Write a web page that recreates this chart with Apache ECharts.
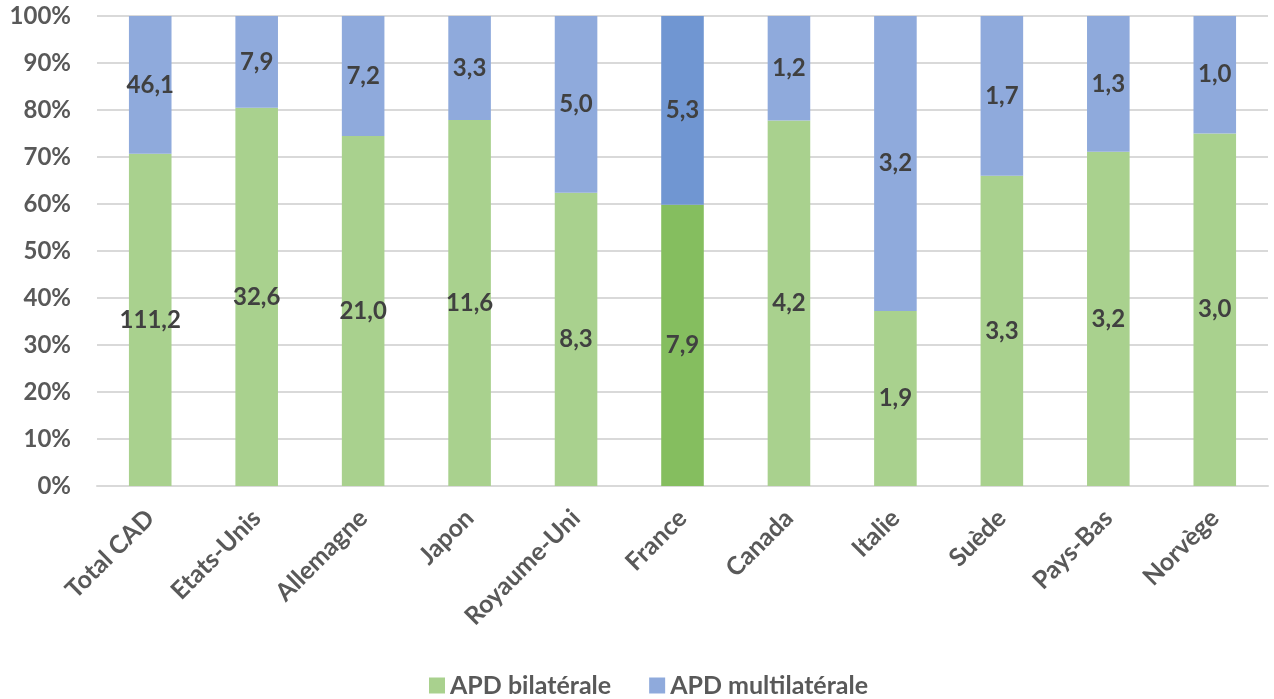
<!DOCTYPE html>
<html>
<head>
<meta charset="utf-8">
<script src="https://cdn.jsdelivr.net/npm/echarts@6/dist/echarts.min.js"></script>
<style>
  html, body { margin: 0; padding: 0; background: #fff; }
  #chart { width: 1274px; height: 699px; }
</style>
</head>
<body>
<div id="chart"></div>
<script>
// APD bilatérale / multilatérale par donneur (Mds USD)
const categories = ['Total CAD', 'Etats-Unis', 'Allemagne', 'Japon', 'Royaume-Uni', 'France', 'Canada', 'Italie', 'Suède', 'Pays-Bas', 'Norvège'];
const bilateral = [111.2, 32.6, 21.0, 11.6, 8.3, 7.9, 4.2, 1.9, 3.3, 3.2, 3.0];
const multilateral = [46.1, 7.9, 7.2, 3.3, 5.0, 5.3, 1.2, 3.2, 1.7, 1.3, 1.0];
const seriesNames = ['APD bilatérale', 'APD multilatérale'];
const highlighted = 'France';

const FONT = 'Lato, "Open Sans", sans-serif';
const GREEN = '#A9D18E', GREEN_HI = '#85BE5F';
const BLUE = '#8FAADC', BLUE_HI = '#7096D2';

const share = (a, b) => a.map((v, i) => v / (v + b[i]) * 100);
const fmt = v => v.toFixed(1).replace('.', ',');

function build(values, other, base, hi) {
  const pct = share(values, other);
  return pct.map((p, i) => ({
    value: p,
    raw: values[i],
    itemStyle: { color: categories[i] === highlighted ? hi : base }
  }));
}

const labelStyle = {
  show: true,
  position: 'inside',
  color: '#404040',
  fontFamily: FONT,
  fontWeight: 'bold',
  fontSize: 24,
  formatter: p => fmt(p.data.raw)
};

const chart = echarts.init(document.getElementById('chart'), null, { renderer: 'canvas' });
chart.setOption({
  animation: false,
  backgroundColor: '#fff',
  grid: { left: 97, right: 6, top: 16, bottom: 213, containLabel: false },
  legend: {
    data: seriesNames,
    left: 424,
    top: 668,
    itemWidth: 16,
    itemHeight: 16,
    itemGap: 38,
    icon: 'rect',
    textStyle: { color: '#595959', fontFamily: FONT, fontWeight: 'bold', fontSize: 25 }
  },
  xAxis: {
    type: 'category',
    data: categories,
    axisLine: { lineStyle: { color: '#D9D9D9', width: 2 } },
    axisTick: { show: false },
    axisLabel: {
      rotate: 45,
      interval: 0,
      margin: 28,
      color: '#595959',
      fontFamily: FONT,
      fontWeight: 'bold',
      fontSize: 25
    }
  },
  yAxis: {
    type: 'value',
    min: 0,
    max: 100,
    interval: 10,
    axisLine: { show: false },
    axisTick: { show: false },
    splitLine: { lineStyle: { color: '#D9D9D9', width: 2 } },
    axisLabel: {
      margin: 26,
      color: '#595959',
      fontFamily: FONT,
      fontWeight: 'bold',
      fontSize: 24,
      formatter: '{value}%'
    }
  },
  series: [
    {
      name: seriesNames[0],
      type: 'bar',
      stack: 'total',
      barWidth: '40%',
      itemStyle: { color: GREEN },
      label: labelStyle,
      data: build(bilateral, multilateral, GREEN, GREEN_HI)
    },
    {
      name: seriesNames[1],
      type: 'bar',
      stack: 'total',
      barWidth: '40%',
      itemStyle: { color: BLUE },
      label: labelStyle,
      data: build(multilateral, bilateral, BLUE, BLUE_HI)
    }
  ]
});
</script>
</body>
</html>
